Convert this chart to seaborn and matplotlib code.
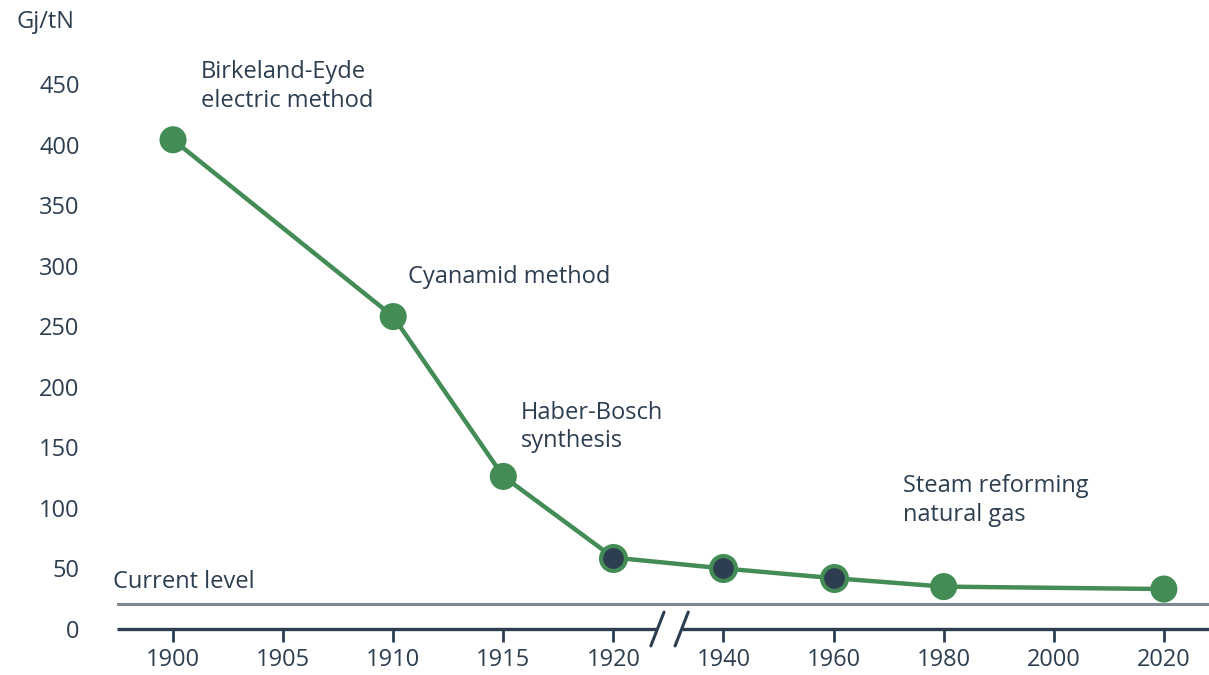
import numpy as np
import pandas as pd
import matplotlib.pyplot as plt
import seaborn as sns

# axis categories (broken axis: 5-year steps until 1920, then 20-year steps)
tick_years = [1900, 1905, 1910, 1915, 1920, 1940, 1960, 1980, 2000, 2020]
years = [1900, 1910, 1915, 1920, 1940, 1960, 1980, 2020]
energy = [404, 258, 126, 59, 50, 42, 35, 33]
dark_centre = [False, False, False, True, True, True, False, False]
current_level = 21
y_ticks = list(range(0, 451, 50))

labels = ['Birkeland-Eyde\nelectric method', 'Cyanamid method',
          'Haber-Bosch\nsynthesis', 'Steam reforming\nnatural gas']
label_x = [0.25, 2.13, 3.16, 6.63]
label_y = [448, 291, 167, 106]

green = '#438c55'
navy = '#2d3e50'
grey = '#7d8893'
fs = 17

sns.set_theme(style='white')
plt.rcParams['font.family'] = ['Open Sans', 'DejaVu Sans']

df = pd.DataFrame({'year': years, 'energy': energy, 'dark': dark_centre})
df['pos'] = [tick_years.index(y) for y in years]

fig = plt.figure(figsize=(12.09, 6.75), dpi=100)
ax = fig.add_axes([117 / 1209, 46 / 675, 1 - 117 / 1209, 609 / 675])

sns.lineplot(data=df, x='pos', y='energy', color=green, linewidth=3.2, ax=ax, zorder=3)
sns.scatterplot(data=df[~df.dark], x='pos', y='energy', color=green, s=380,
                edgecolor='none', ax=ax, zorder=4)
sns.scatterplot(data=df[df.dark], x='pos', y='energy', color=navy, s=320,
                edgecolor=green, linewidth=3.0, ax=ax, zorder=4)

xmin, xmax = -0.509, 9.41
ax.set_xlim(xmin, xmax)
ax.set_ylim(0, 502.9)

# current level line
ax.axhline(current_level, color=grey, linewidth=2.2, zorder=2)
ax.text(-0.545, 39, 'Current level', fontsize=fs, color=navy, va='center', ha='left')

# broken x axis
brk_a, brk_b = 4.40, 4.62
ax.plot([xmin, brk_a], [0, 0], color=navy, linewidth=2.4, clip_on=False, solid_capstyle='butt')
ax.plot([brk_b, xmax], [0, 0], color=navy, linewidth=2.4, clip_on=False, solid_capstyle='butt')
for b in (brk_a, brk_b):
    ax.plot([b - 0.06, b + 0.06], [-14, 14], color=navy, linewidth=2.2, clip_on=False)

for s in ax.spines.values():
    s.set_visible(False)

ax.set_xticks(range(len(tick_years)))
ax.set_xticklabels([str(y) for y in tick_years])
ax.set_yticks(y_ticks)
ax.set_yticklabels([str(v) for v in y_ticks])
ax.tick_params(axis='x', length=9, width=2, color=navy, colors=navy, labelsize=fs,
               pad=5, bottom=True, labelcolor=navy)
ax.tick_params(axis='y', length=0, labelsize=fs, labelcolor=navy, pad=27)
ax.set_xlabel('')
ax.set_ylabel('')

for t, x, y in zip(labels, label_x, label_y):
    ax.text(x, y, t, fontsize=fs, color=navy, va='center', ha='left', linespacing=1.25)

fig.text(45 / 1209, 1 - 22 / 675, 'Gj/tN', fontsize=fs, color=navy, ha='center', va='center')

fig.savefig('out.png', dpi=100)
